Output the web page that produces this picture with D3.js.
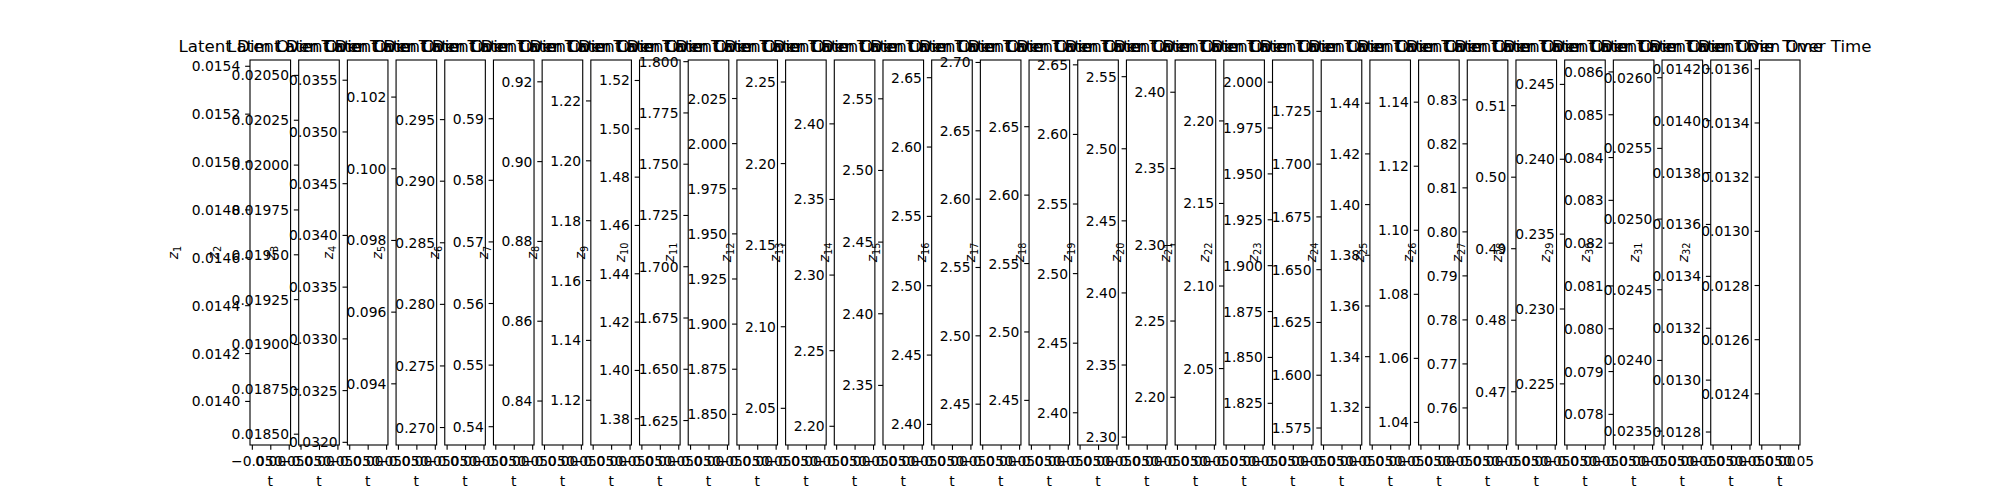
<!DOCTYPE html>
<html>
<head>
<meta charset="utf-8">
<script src="https://cdn.jsdelivr.net/npm/d3@7"></script>
<style>
  body { margin: 0; background: #fff; }
  svg { display: block; }
  text { font-family: "DejaVu Sans", sans-serif; fill: #000; }
</style>
</head>
<body>
<svg id="chart" width="2000" height="500"></svg>
<script>
// ---- data ----
const timeSteps = [0];
const latentValues = [
  0.01462, 0.01951, 0.03383, 0.09765, 0.28417, 0.5682, 0.8771, 1.1692,
  1.4486, 1.7067, 1.9394, 2.1452, 2.3146, 2.4424, 2.5236, 2.5606,
  2.5577, 2.5148, 2.4277, 2.2946, 2.1200, 1.9069, 1.6579, 1.3809,
  1.0929, 0.7952, 0.4894, 0.23374, 0.08177, 0.02476, 0.01349, 0.01292
];
const dimNames = latentValues.map((_, i) => String(i + 1));
const xTickValues = [-0.05, 0.0, 0.05];
const xTickLabels = ["\u22120.05", "0.00", "0.05"];
const chartTitle = "Latent Dim Over Time";
const xAxisLabel = "t";

// ---- layout (matplotlib-like) ----
const W = 2000, H = 500;
const PT = 100 / 72;
const figL = 0.125 * W, figR = 0.9 * W, figT = (1 - 0.88) * H, figB = (1 - 0.11) * H;
const n = latentValues.length;
const wspace = 0.2;
const axW = (figR - figL) / (n + (n - 1) * wspace);
const axGap = axW * wspace;
const axH = figB - figT;
const tickLen = 3.5 * PT, tickPad = 3.5 * PT;
const fs10 = 10 * PT, fs12 = 12 * PT;
const lw = 0.8 * PT;

function mplTicks(lo, hi) {
  const nbins = 9, steps = [1, 2, 2.5, 5, 10];
  const raw = (hi - lo) / nbins;
  const scale = Math.pow(10, Math.floor(Math.log10(raw)));
  let step = 10 * scale;
  for (const s of steps) { if (s * scale >= raw) { step = s * scale; break; } }
  const ticks = [];
  const k0 = Math.ceil(lo / step - 1e-9);
  for (let k = k0; k * step <= hi + step * 1e-9; k++) ticks.push(k * step);
  return ticks;
}
function decimalsFor(ticks, lo, hi) {
  const all = [...ticks, lo, hi];
  const range = Math.max(...all) - Math.min(...all);
  const oom = Math.floor(Math.log10(range));
  let sig = Math.max(0, 3 - oom);
  const thresh = 1e-3 * Math.pow(10, oom);
  while (sig >= 0) {
    const ok = ticks.every(t => Math.abs(t - +t.toFixed(sig)) < thresh);
    if (ok) sig--; else break;
  }
  return sig + 1;
}
function fmt(v, d) {
  const s = Math.abs(v).toFixed(d);
  return (v < 0 && +s !== 0 ? "\u2212" : "") + s;
}

const svg = d3.select("#chart");
svg.append("rect").attr("width", W).attr("height", H).attr("fill", "#fff");

latentValues.forEach((v, i) => {
  const left = figL + i * (axW + axGap);
  const g = svg.append("g").attr("transform", `translate(${left},${figT})`);

  // matplotlib autoscale for a single point: nonsingular (±5%) then 5% margins
  const xLo = -0.05 - 0.1 * 0.05, xHi = 0.05 + 0.1 * 0.05;
  const yLo = v * 0.95 - 0.1 * v * 0.05, yHi = v * 1.05 + 0.1 * v * 0.05;
  const x = d3.scaleLinear().domain([xLo, xHi]).range([0, axW]);
  const y = d3.scaleLinear().domain([yLo, yHi]).range([axH, 0]);

  g.append("rect").attr("width", axW).attr("height", axH).attr("fill", "#fff");

  // series (single point -> nothing visible, as in the reference)
  const series = timeSteps.map(t => ({ t, v }));
  g.append("path").datum(series)
    .attr("d", d3.line().x(d => x(d.t)).y(d => y(d.v)))
    .attr("fill", "none").attr("stroke", "#1f77b4").attr("stroke-width", 1.5 * PT);

  // y ticks
  const yt = mplTicks(yLo, yHi);
  const dec = decimalsFor(yt, yLo, yHi);
  const yAxis = d3.axisLeft(y).tickValues(yt).tickSize(tickLen).tickPadding(tickPad)
    .tickFormat(d => fmt(d, dec));
  const ya = g.append("g").call(yAxis);
  ya.select(".domain").remove();
  ya.selectAll(".tick line").attr("stroke", "#000").attr("stroke-width", lw);
  ya.selectAll(".tick text").attr("font-size", fs10).attr("font-family", "DejaVu Sans")
    .attr("fill", "#000").attr("dy", "0.36em");
  let maxW = 0;
  ya.selectAll(".tick text").each(function () { maxW = Math.max(maxW, this.getComputedTextLength()); });

  // x ticks
  const xAxis = d3.axisBottom(x).tickValues(xTickValues).tickSize(tickLen).tickPadding(tickPad)
    .tickFormat((d, k) => xTickLabels[k]);
  const xa = g.append("g").attr("transform", `translate(0,${axH})`).call(xAxis);
  xa.select(".domain").remove();
  xa.selectAll(".tick line").attr("stroke", "#000").attr("stroke-width", lw);
  xa.selectAll(".tick text").attr("font-size", fs10).attr("font-family", "DejaVu Sans")
    .attr("fill", "#000").attr("dy", null).attr("y", 466 - figB - 0 ).attr("dominant-baseline", "alphabetic");

  // spines
  g.append("rect").attr("width", axW).attr("height", axH)
    .attr("fill", "none").attr("stroke", "#000").attr("stroke-width", lw);

  // x label
  g.append("text").attr("x", axW / 2).attr("y", 485.5 - figT)
    .attr("text-anchor", "middle").attr("font-size", fs10).text(xAxisLabel);

  // y label (mathtext z_i)
  const ylx = -tickLen - tickPad - maxW - 13.6;
  const yl = g.append("text")
    .attr("transform", `translate(${ylx},${axH / 2}) rotate(-90)`)
    .attr("text-anchor", "middle").attr("font-size", fs10);
  yl.append("tspan").attr("font-style", "italic").text("z");
  yl.append("tspan").attr("font-size", fs10 * 0.7).attr("dy", 2.8).text(dimNames[i]);

  // title
  g.append("text").attr("x", axW / 2).attr("y", -6 * PT)
    .attr("text-anchor", "middle").attr("font-size", fs12).text(chartTitle);
});
</script>
</body>
</html>
